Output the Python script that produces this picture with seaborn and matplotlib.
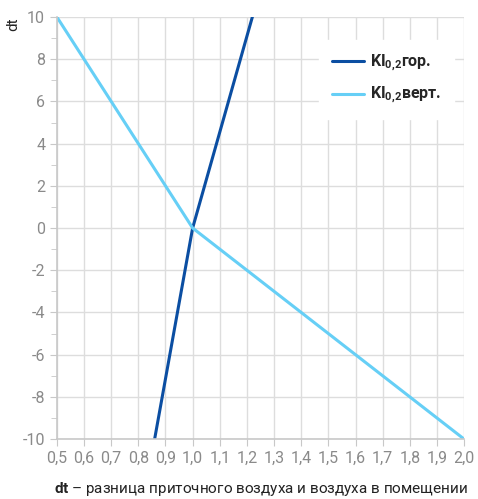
import pandas as pd
import matplotlib
matplotlib.use('Agg')
import matplotlib.pyplot as plt
import seaborn as sns
from matplotlib.ticker import FuncFormatter, MultipleLocator

# Data
hor_x = [0.86, 0.93, 1.0, 1.11, 1.22]
hor_y = [-10, -5, 0, 5, 10]
vert_x = [0.5, 1.0, 2.0]
vert_y = [10, 0, -10]
series_names = [r"KI$_{\mathbf{0{,}2}}$гор.", r"KI$_{\mathbf{0{,}2}}$верт."]
colors = ['#0b4ea2', '#66cff6']

data = pd.concat([
    pd.DataFrame({'x': hor_x, 'y': hor_y, 'series': series_names[0]}),
    pd.DataFrame({'x': vert_x, 'y': vert_y, 'series': series_names[1]}),
])

sns.set_style('whitegrid', {'grid.color': '#dddddd', 'axes.edgecolor': '#c8c8c8'})
plt.rcParams['font.family'] = ['Roboto', 'DejaVu Sans']
plt.rcParams['mathtext.fontset'] = 'custom'
plt.rcParams['mathtext.rm'] = 'Roboto'
plt.rcParams['mathtext.bf'] = 'Roboto:bold'

fig = plt.figure(figsize=(4.78, 4.99), dpi=100)
ax = fig.add_axes([0.119, 0.12, 0.852, 0.846])

sns.lineplot(data=data, x='x', y='y', hue='series', palette=colors,
             sort=False, estimator=None, linewidth=2.2, ax=ax)

ax.set_xlim(0.5, 2.0)
ax.set_ylim(-10, 10)
ax.xaxis.set_major_locator(MultipleLocator(0.1))
ax.yaxis.set_major_locator(MultipleLocator(2))
ax.yaxis.set_minor_locator(MultipleLocator(1))
ax.xaxis.set_major_formatter(FuncFormatter(lambda v, p: f"{v:.1f}".replace('.', ',')))
ax.yaxis.set_major_formatter(FuncFormatter(lambda v, p: f"{int(round(v))}"))

ax.grid(True, which='major', color='#dddddd', linewidth=1)
ax.grid(False, which='minor')
for s in ['top', 'right']:
    ax.spines[s].set_visible(False)
for s in ['left', 'bottom']:
    ax.spines[s].set_color('#c8c8c8')
    ax.spines[s].set_linewidth(1.2)
ax.tick_params(axis='both', which='both', color='#c8c8c8', labelcolor='#8a8a8a',
               labelsize=11.5, direction='out', bottom=True, left=True)
ax.tick_params(axis='both', which='major', length=5)
ax.tick_params(axis='y', which='minor', length=4)

ax.set_xlabel(r"$\mathbf{dt}$ – разница приточного воздуха и воздуха в помещении",
              fontsize=11, color='#222222', labelpad=10)
ax.set_ylabel('dt', loc='top', fontsize=11, color='#222222', labelpad=2)

leg = ax.legend(loc='upper right', bbox_to_anchor=(0.995, 0.965), frameon=True,
                prop={'weight': 'bold', 'size': 11.5}, handlelength=2.0,
                borderpad=0.8, labelspacing=0.7, handletextpad=0.4)
leg.set_title(None)
leg.get_frame().set_edgecolor('white')
leg.get_frame().set_facecolor('white')
leg.get_frame().set_alpha(1)

fig.savefig('out.png', dpi=100)
